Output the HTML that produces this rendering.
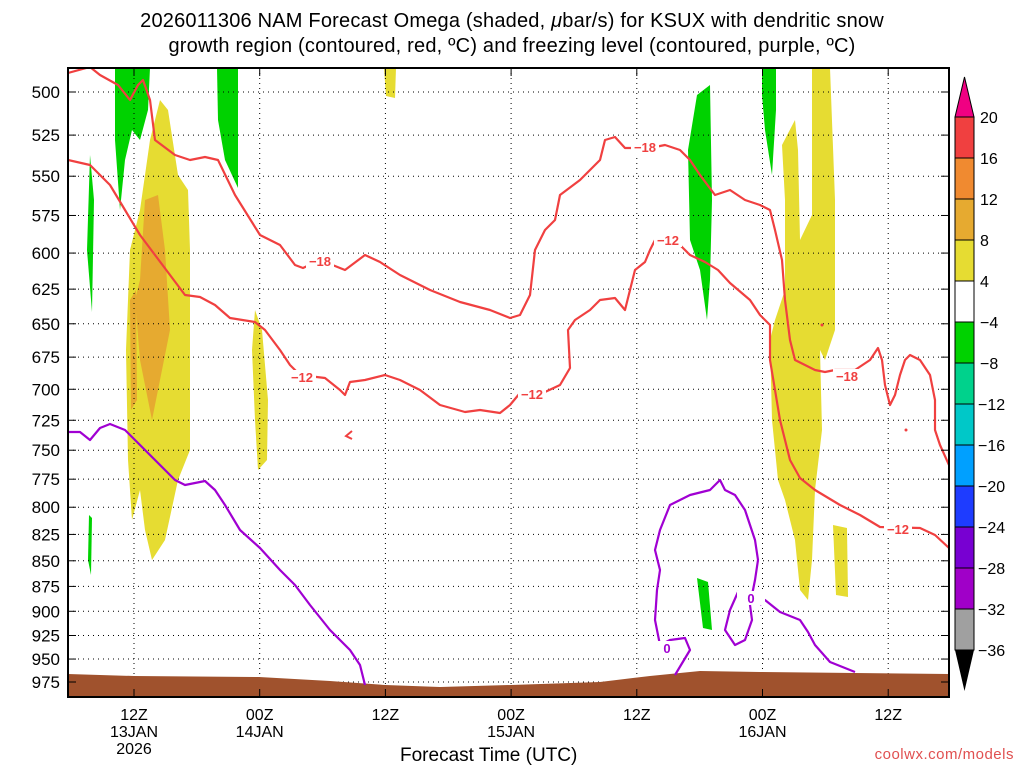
<!DOCTYPE html>
<html><head><meta charset="utf-8"><style>
body{margin:0;background:#fff;width:1024px;height:768px;overflow:hidden}
svg{display:block;font-family:"Liberation Sans",sans-serif}
</style></head><body>
<svg id="c" width="1024" height="768"></svg>
<script>
const pTicks=[500,525,550,575,600,625,650,675,700,725,750,775,800,825,850,875,900,925,950,975];
const xTickHours=[6,18,30,42,54,66,78];
const xTickLabels=[["12Z","13JAN","2026"],["00Z","14JAN"],["12Z"],["00Z","15JAN"],["12Z"],["00Z","16JAN"],["12Z"]];
const cbLevels=["20","16","12","8","4","\u22124","\u22128","\u221212","\u221216","\u221220","\u221224","\u221228","\u221232","\u221236"];
const cbColors=["#f04040","#f08a30","#e6aa30","#e6dc32","#ffffff","#00d200","#00d28c","#00c8c8","#00a0ff","#1e3cff","#7800d2","#a000c8","#a0a0a0"];
const yellowRegions=[
[[130,250],[140,210],[150,140],[160,100],[168,110],[178,175],[188,190],[190,250],[190,450],[178,480],[165,540],[152,560],[145,530],[140,490],[132,520],[128,460],[126,350]],
[[255,310],[262,330],[268,400],[267,460],[258,470],[255,420],[252,350]],
[[384,68],[396,68],[395,98],[386,96]],
[[812,68],[830,68],[835,200],[835,330],[825,360],[820,350],[822,430],[815,490],[812,560],[808,600],[800,590],[795,540],[790,520],[785,500],[778,480],[772,420],[770,340],[775,320],[785,290],[785,200],[782,145],[795,120],[798,150],[800,240],[812,215],[812,150]],
[[833,525],[847,528],[848,597],[836,595]]];
const orangeRegions=[[[145,200],[158,195],[165,250],[170,330],[160,380],[152,420],[148,400],[140,360],[135,300],[140,280]],[[130,300],[136,290],[137,400],[131,410]]];
const greenRegions=[
[[115,68],[150,68],[148,110],[140,140],[132,130],[125,160],[120,210],[115,140]],
[[90,155],[94,200],[92,312],[87,250]],
[[217,68],[238,68],[238,188],[225,160],[218,120]],
[[89,515],[92,518],[91,575],[88,560]],
[[697,95],[710,85],[712,200],[710,280],[707,320],[700,270],[690,240],[688,150]],
[[762,68],[776,68],[776,110],[772,175],[765,130],[762,95]],
[[697,578],[708,582],[712,630],[703,628]]];
const redUpper=[[68,73],[90,67],[100,75],[118,85],[130,100],[138,85],[143,80],[150,100],[155,140],[175,155],[190,160],[205,157],[218,160],[235,195],[260,235],[280,245],[295,265],[303,268],[320,260],[345,270],[365,255],[380,262],[400,275],[430,290],[460,302],[490,310],[510,318],[520,315],[530,295],[535,250],[545,230],[555,220],[560,195],[580,180],[595,165],[600,160],[605,140],[615,137],[625,148],[650,148],[665,145],[680,150],[690,160],[700,175],[715,195],[730,190],[745,200],[760,205],[770,210],[775,230],[782,260],[785,300],[790,340],[795,360],[805,365],[815,370],[825,372],[835,370],[855,370],[870,360],[878,348],[882,360],[885,385],[890,405],[895,395],[900,375],[905,360],[910,355],[920,360],[930,375],[935,400],[935,430],[940,445],[949,465]];
const redLower=[[68,160],[90,165],[110,185],[125,210],[140,235],[155,255],[170,275],[185,295],[200,297],[215,305],[230,318],[255,322],[265,330],[280,350],[290,365],[300,375],[325,378],[340,390],[345,395],[350,382],[365,380],[385,375],[400,380],[420,390],[440,405],[465,412],[480,410],[500,413],[510,405],[520,393],[545,392],[560,385],[570,368],[568,330],[575,320],[590,310],[600,300],[615,298],[625,310],[635,270],[645,262],[650,250],[655,240],[680,245],[690,255],[705,262],[718,270],[730,283],[750,300],[760,315],[770,325],[770,360],[775,390],[780,420],[790,460],[800,478],[815,490],[840,505],[860,515],[880,527],[920,528],[935,535],[949,548]];
const purple1=[[68,432],[80,432],[90,440],[100,428],[110,424],[125,430],[140,445],[160,465],[175,480],[185,485],[195,483],[205,481],[215,490],[225,505],[240,530],[260,548],[280,570],[295,585],[310,605],[330,630],[350,650],[360,665],[365,685]];
const purple2=[[675,675],[690,650],[685,638],[670,640],[660,645],[655,620],[657,590],[660,570],[655,550],[660,530],[670,505],[690,495],[710,490],[720,480],[725,490],[735,495],[745,510],[750,525],[755,540],[758,560],[755,580],[750,605],[752,620],[745,640],[735,645],[725,630],[730,610],[738,592],[748,596]];
const purple3=[[760,605],[765,600],[780,612],[800,620],[808,632],[815,645],[830,662],[845,668],[855,672]];
const groundTop=[[68,674],[134,676],[259,677],[330,681],[385,685],[440,687],[511,685],[600,682],[650,676],[700,671],[760,672],[949,674]];

const L=68,R=949,T=68,B=697,K=590/Math.log(975/500),PX=125.7/12;
const X=h=>134+(h-6)*PX, Y=p=>92+K*Math.log(p/500);
const hx=x=>(x-134)/PX+6, py=y=>500*Math.exp((y-92)/K);
const toData=a=>a.map(([x,y])=>[hx(x),py(y)]);
const pts=a=>toData(a).map(([h,p])=>X(h).toFixed(1)+","+Y(p).toFixed(1)).join(" ");
const svg=document.getElementById('c');const NS="http://www.w3.org/2000/svg";
function el(t,a,parent){const e=document.createElementNS(NS,t);for(const k in a)e.setAttribute(k,a[k]);(parent||svg).appendChild(e);return e;}
const clip=el('clipPath',{id:'pc'});el('rect',{x:L,y:T,width:R-L,height:B-T},clip);
const g=el('g',{'clip-path':'url(#pc)'});
yellowRegions.forEach(r=>{const e=el('polygon',{points:pts(r),fill:'#e6dc32'},g);

});
orangeRegions.forEach(r=>{const e=el('polygon',{points:pts(r),fill:'#e6aa30'},g);

});
greenRegions.forEach(r=>{const e=el('polygon',{points:pts(r),fill:'#00d200'},g);

});
pTicks.forEach(p=>{el('line',{x1:L,x2:R,y1:Y(p),y2:Y(p),stroke:'#000','stroke-width':1,'stroke-dasharray':'1,4'},g);
el('line',{x1:L,x2:L+8,y1:Y(p),y2:Y(p),stroke:'#000'});el('line',{x1:R-8,x2:R,y1:Y(p),y2:Y(p),stroke:'#000'});
const t=el('text',{x:60,y:Y(p)+6,'text-anchor':'end','font-size':17});t.textContent=p;

});
xTickHours.forEach((h,i)=>{el('line',{x1:X(h),x2:X(h),y1:T,y2:B,stroke:'#000','stroke-dasharray':'1,4'},g);
el('line',{x1:X(h),x2:X(h),y1:B-8,y2:B,stroke:'#000'});el('line',{x1:X(h),x2:X(h),y1:T,y2:T+8,stroke:'#000'});
xTickLabels[i].forEach((s,j)=>{const t=el('text',{x:X(h),y:720+j*17,'text-anchor':'middle','font-size':16});t.textContent=s;

});});
const gp=toData(groundTop).map(([h,p])=>X(h)+","+Y(p));
const gr=el('polygon',{points:gp.join(" ")+` ${R},${B} ${L},${B}`,fill:'#a0522d'},g);


[[redUpper,'#f04040','contour-minus18'],[redLower,'#f04040','contour-minus12'],[purple1,'#a000d2','freezing-level'],[purple2,'#a000d2','freezing-level-loop'],[purple3,'#a000d2','freezing-level-2']].forEach(([d,c,n])=>{
const e=el('polyline',{points:pts(d),fill:'none',stroke:c,'stroke-width':2.2,'stroke-linejoin':'round'},g);

});
el('path',{d:'M352,431 L346,436 L352,439',fill:'none',stroke:'#f04040','stroke-width':2},g);
el('circle',{cx:906,cy:430,r:1.5,fill:'#f04040'},g);el('circle',{cx:822,cy:325,r:1.5,fill:'#f04040'},g);
[[320,261,'−18','#f04040'],[645,147,'−18','#f04040'],[847,376,'−18','#f04040'],[302,377,'−12','#f04040'],[532,394,'−12','#f04040'],[668,240,'−12','#f04040'],[898,529,'−12','#f04040'],[667,648,'0','#a000d2'],[751,598,'0','#a000d2']].forEach(([x,y,s,c])=>{
el('rect',{x:x-14,y:y-7,width:28,height:14,fill:'#fff'},g);
const t=el('text',{x:x,y:y+5,'text-anchor':'middle','font-size':13,'font-weight':'bold',fill:c},g);t.textContent=s;

});
el('rect',{x:L,y:T,width:R-L,height:B-T,fill:'none',stroke:'#000','stroke-width':2});
const cbX=955,cbW=19,cbTop=117,cbStep=41.0;
el('polygon',{points:`${cbX},${cbTop} ${cbX+cbW},${cbTop} ${cbX+cbW/2},77`,fill:'#f00082',stroke:'#000'});
cbColors.forEach((c,i)=>{const r=el('rect',{x:cbX,y:cbTop+i*cbStep,width:cbW,height:cbStep,fill:c,stroke:'#000'});

});
const cbBot=cbTop+cbColors.length*cbStep;
el('polygon',{points:`${cbX},${cbBot} ${cbX+cbW},${cbBot} ${cbX+cbW/2},691`,fill:'#000'});
cbLevels.forEach((s,i)=>{const t=el('text',{x:s.length>2&&s[0]=='\u2212'?978:980,y:cbTop+i*cbStep+6,'font-size':16});t.textContent=s;

});
</script>
<div style="position:absolute;left:0;top:0;width:1024px;text-align:center;font:20px 'Liberation Sans',sans-serif;line-height:25px;padding-top:9px;letter-spacing:0.2px">2026011306 NAM Forecast Omega (shaded, <i>μ</i>bar/s) for KSUX with dendritic snow<br>growth region (contoured, red, ºC) and freezing level (contoured, purple, ºC)</div>
<div style="position:absolute;left:400px;top:745px;font:19px 'Liberation Sans',sans-serif">Forecast Time (UTC)</div>
<div style="position:absolute;right:10px;top:746px;font:15px 'Liberation Sans',sans-serif;color:#e05050;letter-spacing:0.5px">coolwx.com/models</div>
</body></html>
